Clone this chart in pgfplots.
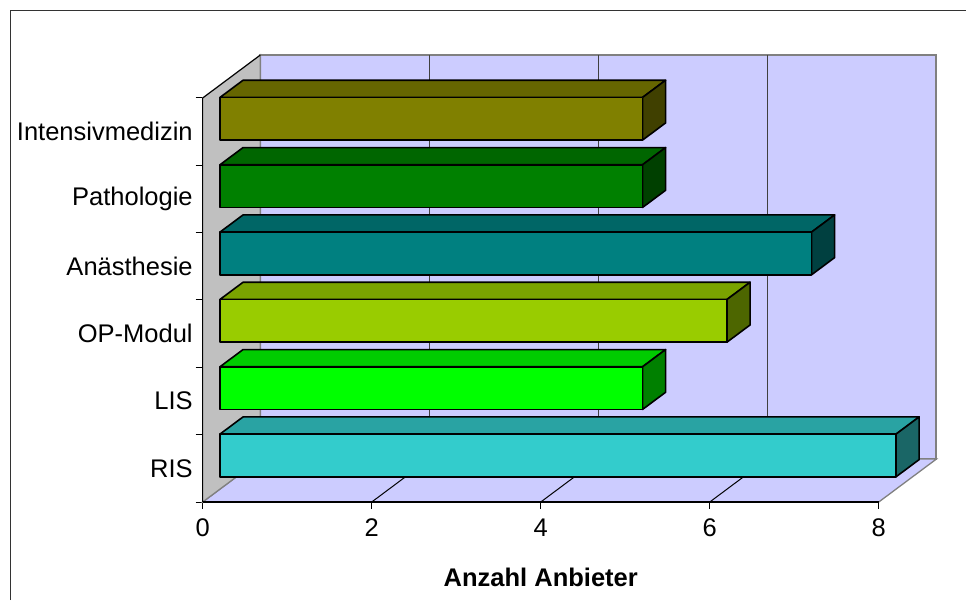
\documentclass[border=0pt]{standalone}
\usepackage{pgfplots}
\pgfplotsset{compat=1.18}
\usepackage{fontspec}
\setmainfont{Liberation Sans}
\definecolor{wall}{HTML}{CCCCFF}
\definecolor{lwall}{HTML}{C0C0C0}
\definecolor{edge}{HTML}{808080}
\definecolor{olF}{HTML}{808000}\definecolor{olT}{HTML}{666600}\definecolor{olS}{HTML}{404000}
\definecolor{grF}{HTML}{008000}\definecolor{grT}{HTML}{006600}\definecolor{grS}{HTML}{004000}
\definecolor{teF}{HTML}{008080}\definecolor{teT}{HTML}{006666}\definecolor{teS}{HTML}{004040}
\definecolor{opF}{HTML}{99CC00}\definecolor{opT}{HTML}{7AA300}\definecolor{opS}{HTML}{4D6600}
\definecolor{liF}{HTML}{00FF00}\definecolor{liT}{HTML}{00CC00}\definecolor{liS}{HTML}{008000}
\definecolor{riF}{HTML}{33CCCC}\definecolor{riT}{HTML}{29A3A3}\definecolor{riS}{HTML}{1A6666}
\begin{document}
\begin{tikzpicture}[x=1pt,y=1pt]
\path[use as bounding box] (0,0) rectangle (966,600);
\draw[line width=1.6pt, black!80] (10.5,0) -- (10.5,589.5) -- (966,589.5);
\begin{axis}[
  at={(202.7pt,98pt)}, anchor=south west,
  scale only axis, width=733.75pt, height=447pt,
  xmin=0, xmax=8.6825, ymin=0, ymax=6.6386,
  clip=false,
  axis line style={draw=none},
  tick pos=left, tick align=outside,
  xtick={0,2,4,6,8},
  major tick length=6.5pt,
  major x tick style={draw=black, line width=1pt},
  ytick={0.5,1.5,2.5,3.5,4.5,5.5},
  yticklabels={RIS,LIS,OP-Modul,Anästhesie,Pathologie,Intensivmedizin},
  major y tick style={draw=none},
  minor ytick={0,1,2,3,4,5,6},
  minor tick length=7pt,
  minor y tick style={draw=black, line width=1pt},
  /pgf/number format/assume math mode=true,
  ticklabel style={font=\fontsize{25.5}{30}\selectfont},
  yticklabel style={xshift=0pt},
  xticklabel style={yshift=-7pt},
  xlabel={Anzahl Anbieter},
  xlabel style={at={(axis cs:4,0)}, anchor=base, yshift=-84.7pt, font=\fontsize{25.5}{30}\selectfont\bfseries},
]
% walls
\addplot[fill=wall, draw=edge, line width=2pt] coordinates {(0.6825,0.6386) (8.6825,0.6386) (8.6825,6.6386) (0.6825,6.6386)} -- cycle;
\addplot[fill=wall, draw=edge, line width=1.3pt] coordinates {(0,0) (8,0) (8.6825,0.6386) (0.6825,0.6386)} -- cycle;
\addplot[fill=lwall, draw=edge, line width=1.3pt] coordinates {(0,0) (0.6825,0.6386) (0.6825,6.6386) (0,6)} -- cycle;
% gridlines
\addplot[draw=black!75, line width=1pt] coordinates {(2.6825,0.6386) (2.6825,6.6386)};
\addplot[draw=black!75, line width=1pt] coordinates {(4.6825,0.6386) (4.6825,6.6386)};
\addplot[draw=black!75, line width=1pt] coordinates {(6.6825,0.6386) (6.6825,6.6386)};
\addplot[draw=black, line width=1pt] coordinates {(2,0) (2.6825,0.6386)};
\addplot[draw=black, line width=1pt] coordinates {(4,0) (4.6825,0.6386)};
\addplot[draw=black, line width=1pt] coordinates {(6,0) (6.6825,0.6386)};
\addplot[draw=black, line width=1pt] coordinates {(0,6) (0.6825,6.6386)};
% front axis lines
\addplot[draw=black, line width=1.4pt] coordinates {(0,0) (8,0)};
\addplot[draw=black, line width=1.4pt] coordinates {(0,0) (0,6)};
% bars (front face, top face, side face); values 5,5,7,6,5,8
\tikzset{barline/.style={draw=black, line width=1.6pt, line join=round}}
% Intensivmedizin = 5
\addplot[barline, fill=olT] coordinates {(0.2048,6.0086) (5.2048,6.0086) (5.4778,6.264) (0.4778,6.264)} -- cycle;
\addplot[barline, fill=olS] coordinates {(5.2048,5.3746) (5.4778,5.630) (5.4778,6.264) (5.2048,6.0086)} -- cycle;
\addplot[barline, fill=olF] coordinates {(0.2048,5.3746) (5.2048,5.3746) (5.2048,6.0086) (0.2048,6.0086)} -- cycle;
% Pathologie = 5
\addplot[barline, fill=grT] coordinates {(0.2048,5.0086) (5.2048,5.0086) (5.4778,5.264) (0.4778,5.264)} -- cycle;
\addplot[barline, fill=grS] coordinates {(5.2048,4.3746) (5.4778,4.630) (5.4778,5.264) (5.2048,5.0086)} -- cycle;
\addplot[barline, fill=grF] coordinates {(0.2048,4.3746) (5.2048,4.3746) (5.2048,5.0086) (0.2048,5.0086)} -- cycle;
% Anästhesie = 7
\addplot[barline, fill=teT] coordinates {(0.2048,4.0086) (7.2048,4.0086) (7.4778,4.264) (0.4778,4.264)} -- cycle;
\addplot[barline, fill=teS] coordinates {(7.2048,3.3746) (7.4778,3.630) (7.4778,4.264) (7.2048,4.0086)} -- cycle;
\addplot[barline, fill=teF] coordinates {(0.2048,3.3746) (7.2048,3.3746) (7.2048,4.0086) (0.2048,4.0086)} -- cycle;
% OP-Modul = 6
\addplot[barline, fill=opT] coordinates {(0.2048,3.0086) (6.2048,3.0086) (6.4778,3.264) (0.4778,3.264)} -- cycle;
\addplot[barline, fill=opS] coordinates {(6.2048,2.3746) (6.4778,2.630) (6.4778,3.264) (6.2048,3.0086)} -- cycle;
\addplot[barline, fill=opF] coordinates {(0.2048,2.3746) (6.2048,2.3746) (6.2048,3.0086) (0.2048,3.0086)} -- cycle;
% LIS = 5
\addplot[barline, fill=liT] coordinates {(0.2048,2.0086) (5.2048,2.0086) (5.4778,2.264) (0.4778,2.264)} -- cycle;
\addplot[barline, fill=liS] coordinates {(5.2048,1.3746) (5.4778,1.630) (5.4778,2.264) (5.2048,2.0086)} -- cycle;
\addplot[barline, fill=liF] coordinates {(0.2048,1.3746) (5.2048,1.3746) (5.2048,2.0086) (0.2048,2.0086)} -- cycle;
% RIS = 8
\addplot[barline, fill=riT] coordinates {(0.2048,1.0086) (8.2048,1.0086) (8.4778,1.264) (0.4778,1.264)} -- cycle;
\addplot[barline, fill=riS] coordinates {(8.2048,0.3746) (8.4778,0.630) (8.4778,1.264) (8.2048,1.0086)} -- cycle;
\addplot[barline, fill=riF] coordinates {(0.2048,0.3746) (8.2048,0.3746) (8.2048,1.0086) (0.2048,1.0086)} -- cycle;
\end{axis}
\end{tikzpicture}
\end{document}
